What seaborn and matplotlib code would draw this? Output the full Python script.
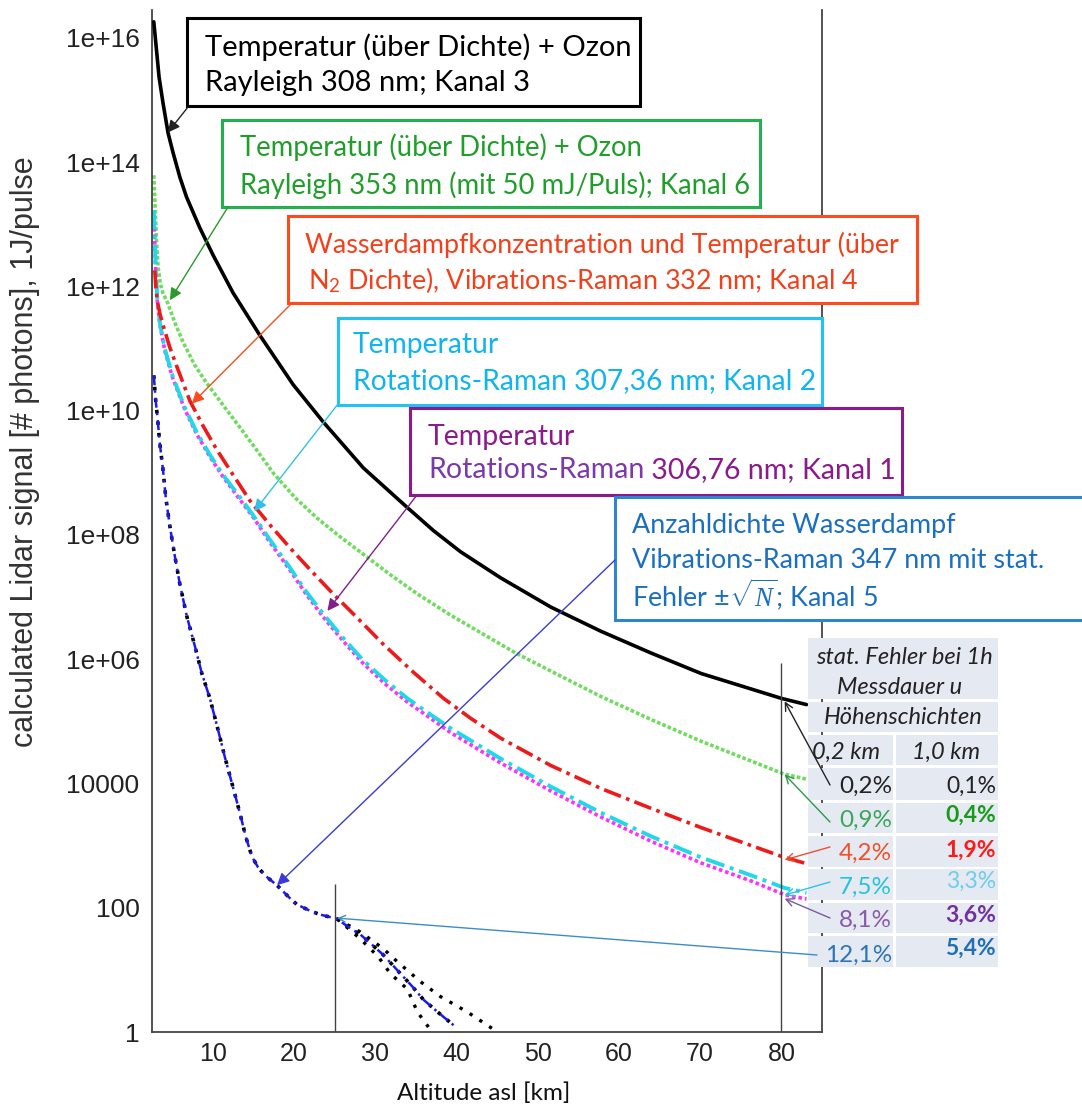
import numpy as np
import matplotlib
matplotlib.use("Agg")
import matplotlib.pyplot as plt
import seaborn as sns
from matplotlib.patches import Rectangle
from matplotlib.ticker import FixedLocator, FixedFormatter, NullLocator

# ---------------- data (altitude in km, log10 of photon counts per 1 J pulse) ----------------
k3_alt = [2.72, 3.05, 3.37, 3.86, 4.48, 5.10, 5.93, 6.75, 8.40, 10.04, 12.47, 15.80, 19.88, 23.58,
          28.52, 33.95, 37.16, 40.49, 45.43, 51.60, 57.78, 63.95, 70.12, 76.30, 80.0, 83.09]
k3_log = [16.26, 15.81, 15.37, 14.95, 14.47, 14.15, 13.76, 13.44, 12.94, 12.50, 11.90, 11.21, 10.42, 9.82,
          9.08, 8.44, 8.07, 7.73, 7.31, 6.84, 6.45, 6.10, 5.77, 5.52, 5.37, 5.27]

k6_alt = [2.72, 2.84, 2.96, 3.09, 3.27, 3.52, 3.83, 4.44, 5.31, 6.30, 7.78, 9.26, 11.48, 13.33,
          15.43, 17.41, 20.12, 22.84, 25.68, 28.52, 31.85, 35.19, 39.26, 43.33, 47.28, 51.60,
          57.78, 63.95, 70.12, 76.30, 80.37, 83.09]
k6_log = [13.79, 13.42, 13.03, 12.65, 12.29, 12.05, 11.90, 11.73, 11.42, 11.11, 10.73, 10.44, 10.05, 9.73,
          9.36, 9.00, 8.60, 8.27, 7.97, 7.69, 7.36, 7.05, 6.71, 6.40, 6.10, 5.81,
          5.40, 5.03, 4.68, 4.36, 4.15, 4.07]

k4_alt = [2.84, 2.96, 3.15, 3.46, 3.83, 4.69, 5.56, 7.16, 8.77, 10.49, 12.47, 14.57, 17.04, 19.51,
          21.98, 24.82, 27.90, 30.99, 34.69, 38.40, 41.73, 45.43, 51.60, 57.78, 63.95, 70.12,
          76.30, 80.37, 83.09]
k4_log = [12.26, 12.02, 11.77, 11.57, 11.39, 11.02, 10.71, 10.16, 9.76, 9.37, 8.97, 8.55, 8.16, 7.79,
          7.44, 7.05, 6.65, 6.24, 5.79, 5.37, 5.05, 4.73, 4.29, 3.92, 3.60, 3.29,
          3.00, 2.81, 2.71]

k2_alt = [2.72, 2.84, 2.96, 3.15, 3.46, 4.07, 5.06, 6.54, 8.02, 9.63, 11.23, 13.09, 14.94, 17.04,
          19.51, 21.36, 23.58, 26.05, 28.52, 31.23, 33.95, 36.79, 39.26, 45.43, 51.60, 57.78,
          63.95, 70.12, 76.30, 80.37, 83.09]
k2_log = [13.23, 12.74, 12.29, 11.81, 11.42, 11.00, 10.55, 10.05, 9.65, 9.29, 8.97, 8.65, 8.32, 7.92,
          7.47, 7.11, 6.73, 6.34, 5.98, 5.66, 5.37, 5.11, 4.89, 4.40, 3.95, 3.53,
          3.15, 2.81, 2.52, 2.32, 2.24]

k1_alt = k2_alt
k1_log = [13.15, 12.70, 12.25, 11.77, 11.39, 10.97, 10.52, 10.02, 9.62, 9.26, 8.94, 8.61, 8.29, 7.88,
          7.43, 7.07, 6.68, 6.29, 5.93, 5.60, 5.31, 5.05, 4.82, 4.33, 3.88, 3.46,
          3.07, 2.72, 2.43, 2.21, 2.14]

k5_alt = [2.72, 2.96, 3.21, 3.46, 3.83, 4.20, 4.69, 5.31, 5.93, 6.79, 7.78, 8.64, 9.63, 10.62,
          11.48, 12.35, 13.33, 14.07, 14.82, 15.56, 16.42, 17.90, 19.51, 20.37, 21.98, 23.21,
          25.31, 26.67, 28.15, 29.63, 30.99, 33.09, 34.57, 35.93, 37.78, 39.63]
k5_log = [10.57, 10.16, 9.84, 9.47, 9.08, 8.60, 8.15, 7.66, 7.21, 6.69, 6.21, 5.77, 5.37, 4.87,
          4.42, 4.00, 3.52, 3.13, 2.82, 2.65, 2.52, 2.36, 2.15, 2.05, 1.95, 1.89,
          1.82, 1.69, 1.57, 1.40, 1.24, 0.94, 0.73, 0.52, 0.31, 0.11]

k5_upper_alt = [25.31, 28.15, 30.99, 32.72, 35.56, 38.02, 41.36, 44.81]
k5_upper_log = [1.82, 1.61, 1.34, 1.13, 0.81, 0.57, 0.32, 0.02]
k5_lower_alt = [25.31, 28.15, 30.37, 31.85, 33.95, 35.19, 36.54]
k5_lower_log = [1.82, 1.50, 1.21, 0.94, 0.69, 0.32, 0.08]

ytick_exp = list(range(0, 17))
ytick_labels = ["1", "", "100", "", "10000", "", "1e+06", "", "1e+08", "", "1e+10", "",
                "1e+12", "", "1e+14", "", "1e+16"]
xticks = [10, 20, 30, 40, 50, 60, 70, 80]

ref_alt = [25, 80]
ref_top_log = [2.39, 5.94]

table_header = ["stat. Fehler bei 1h", "Messdauer u", "Höhenschichten"]
table_cols = ["0,2 km", "1,0 km"]
err_02km = ["0,2%", "0,9%", "4,2%", "7,5%", "8,1%", "12,1%"]
err_10km = ["0,1%", "0,4%", "1,9%", "3,3%", "3,6%", "5,4%"]

# ---------------- styling ----------------
sns.set_theme(style="white")
plt.rcParams["font.family"] = ["Liberation Sans", "DejaVu Sans"]
plt.rcParams["mathtext.fontset"] = "custom"
plt.rcParams["mathtext.rm"] = "Lato"
plt.rcParams["mathtext.it"] = "Liberation Serif:italic"

W, H = 1082, 1111
fig = plt.figure(figsize=(W / 100, H / 100), dpi=100)
fig.patch.set_facecolor("white")
ax = fig.add_axes([152 / W, 1 - 1032 / H, (822 - 152) / W, (1032 - 10) / H])
ax.set_facecolor("white")


def fx(px):
    return px / W


def fy(py):
    return 1 - py / H


def pw(v):
    return 10 ** np.asarray(v, dtype=float)


def line(xv, yv, **kw):
    sns.lineplot(x=xv, y=pw(yv), ax=ax, estimator=None, sort=False, **kw)


# channel 5 with black-dot noise band
line(k5_alt, k5_log, color="black", linestyle=(0, (1, 2.2)), lw=2.6, zorder=2)
line(k5_upper_alt, k5_upper_log, color="black", linestyle=(0, (1, 2.5)), lw=2.4, zorder=2)
line(k5_lower_alt, k5_lower_log, color="black", linestyle=(0, (1, 2.5)), lw=2.4, zorder=2)
line(k5_alt, k5_log, color="#1a1aee", linestyle=(0, (4, 2, 1, 2)), lw=1.8, zorder=3)

line(k6_alt, k6_log, color="#6fdc5e", linestyle=(0, (1, 0.6)), lw=2.6, zorder=2)
line(k1_alt, k1_log, color="#ff30ff", linestyle=(0, (1, 0.8)), lw=2.6, zorder=2)
line(k2_alt, k2_log, color="#20d8e8", linestyle=(0, (5, 1.5, 1, 1.5)), lw=2.8, zorder=2)
line(k4_alt, k4_log, color="#ee1a1a", linestyle=(0, (5, 1.5, 1, 1.5)), lw=2.6, zorder=2)
line(k3_alt, k3_log, color="black", lw=2.6, zorder=3)

for a, t in zip(ref_alt, ref_top_log):
    ax.vlines(a, 1, 10 ** t, color="#444444", lw=1.0, zorder=3)

ax.set_yscale("log")
ax.set_xlim(2.5, 85)
ax.set_ylim(1, 10 ** 16.45)
ax.yaxis.set_major_locator(FixedLocator([10.0 ** e for e in ytick_exp]))
ax.yaxis.set_major_formatter(FixedFormatter(ytick_labels))
ax.yaxis.set_minor_locator(NullLocator())
ax.set_xticks(xticks)
ax.set_xticklabels([str(v) for v in xticks])
ax.tick_params(direction="in", length=6, width=1.0, color="#333333", labelcolor="#222222")
ax.tick_params(axis="y", pad=9, labelsize=19)
ax.tick_params(axis="x", pad=7, labelsize=18)
for s in ["left", "bottom", "right"]:
    ax.spines[s].set_color("#444444")
    ax.spines[s].set_linewidth(1.3)
ax.spines["top"].set_visible(False)
ax.set_xlabel("")
ax.set_ylabel("")

LATO = ["Lato", "DejaVu Sans"]
fig.text(fx(25), fy(452), "calculated Lidar signal [# photons], 1J/pulse", rotation=90,
         ha="center", va="center", fontsize=22, color="#333333")
fig.text(fx(484), fy(1093), "Altitude asl [km]", ha="center", va="center", fontsize=17.5,
         family=LATO, color="#111111")

# ---------------- annotation boxes ----------------
boxes = [
    (187, 18, 640, 106, "black", "black", 21,
     [(205, 47, "Temperatur (über Dichte) + Ozon"), (205, 83, "Rayleigh 308 nm; Kanal 3")]),
    (222, 120, 760, 207, "#22b14c", "#1f9e2a", 19.8,
     [(240, 147, "Temperatur (über Dichte) + Ozon"), (240, 185, "Rayleigh 353 nm (mit 50 mJ/Puls); Kanal 6")]),
    (288, 216, 917, 303, "#ff4a1c", "#f4401a", 19.4,
     [(305, 245, "Wasserdampfkonzentration und Temperatur (über"),
      (308, 280, "N$_\\mathrm{2}$ Dichte), Vibrations-Raman 332 nm; Kanal 4")]),
    (338, 318, 822, 405, "#22c2f2", "#10b4ee", 20.3,
     [(353, 345, "Temperatur"), (353, 381, "Rotations-Raman 307,36 nm; Kanal 2")]),
    (410, 408, 902, 495, "#8c1a8c", "#8b1a8b", 20.5,
     [(428, 437, "Temperatur")]),
    (615, 497, 1095, 620, "#2e86d0", "#1a6fc0", 19.4,
     [(632, 525, "Anzahldichte Wasserdampf"), (632, 560, "Vibrations-Raman 347 nm mit stat."),
      (632, 594, "Fehler ±$\\sqrt{N}$; Kanal 5")]),
]
for x0, y0, x1, y1, ec, tc, fs, lines in boxes:
    ax.add_patch(Rectangle((fx(x0), fy(y1)), fx(x1) - fx(x0), fy(y0) - fy(y1),
                           transform=fig.transFigure, clip_on=False, facecolor="white",
                           edgecolor=ec, lw=2.2, zorder=5))
    for tx, ty, s in lines:
        ax.text(fx(tx), fy(ty), s, transform=fig.transFigure, ha="left", va="center",
                fontsize=fs, color=tc, family=LATO, zorder=6, clip_on=False)

# two-coloured second line of the Kanal 1 box
t_a = ax.text(fx(428), fy(470), "Rotations-Raman", transform=fig.transFigure, ha="left",
              va="center", fontsize=20.5, color="#7a3aaa", family=LATO, zorder=6)
fig.canvas.draw()
bb = t_a.get_window_extent(renderer=fig.canvas.get_renderer())
ax.text(bb.x1 / W, fy(470), " 306,76 nm; Kanal 1", transform=fig.transFigure,
        ha="left", va="center", fontsize=20.5, color="#8b1a8b", family=LATO, zorder=6)

# ---------------- table ----------------
cell_bg = "#e5e9f1"
full_rows = [(638, 699), (702, 732)]
split_rows = [(735, 765), (768, 800), (803, 833), (836, 867), (869, 900), (903, 933), (936, 967)]
for r0, r1 in full_rows:
    ax.add_patch(Rectangle((fx(808), fy(r1)), fx(998) - fx(808), fy(r0) - fy(r1),
                           transform=fig.transFigure, clip_on=False, facecolor=cell_bg,
                           edgecolor="none", zorder=5))
for r0, r1 in split_rows:
    for c0, c1 in [(808, 893), (896, 998)]:
        ax.add_patch(Rectangle((fx(c0), fy(r1)), fx(c1) - fx(c0), fy(r0) - fy(r1),
                               transform=fig.transFigure, clip_on=False, facecolor=cell_bg,
                               edgecolor="none", zorder=5))

for (ty, s), cx in zip([(657, table_header[0]), (688, table_header[1]), (718, table_header[2])],
                       [904, 900, 903]):
    ax.text(fx(cx), fy(ty), s, transform=fig.transFigure, ha="center", va="center",
            fontsize=17, style="italic", color="#222222", family=LATO, zorder=6)
ax.text(fx(812), fy(752), table_cols[0], transform=fig.transFigure, ha="left", va="center",
        fontsize=17, style="italic", color="#222222", family=LATO, zorder=6)
ax.text(fx(946), fy(752), table_cols[1], transform=fig.transFigure, ha="center", va="center",
        fontsize=17, style="italic", color="#222222", family=LATO, zorder=6)

c1_colors = ["#222222", "#3aa65a", "#f0502a", "#22c4dc", "#8a5aaa", "#2e75b6"]
c1_y = [786, 820, 853, 887, 920, 955]
c2_colors = ["#222222", "#1a9a1a", "#ff1a1a", "#6ccdf0", "#7030a0", "#1f6fb5"]
c2_weight = ["normal", "bold", "bold", "normal", "bold", "bold"]
c2_y = [786, 815, 850, 881, 915, 948]
for s, c, y in zip(err_02km, c1_colors, c1_y):
    ax.text(fx(892), fy(y), s, transform=fig.transFigure, ha="right", va="center",
            fontsize=17.5, color=c, family=LATO, zorder=6)
for s, c, w, y in zip(err_10km, c2_colors, c2_weight, c2_y):
    ax.text(fx(996), fy(y), s, transform=fig.transFigure, ha="right", va="center",
            fontsize=16.5, color=c, weight=w, family=LATO, zorder=6)

# ---------------- arrows ----------------
def arrow(x_data, y_data, px, py, color, style="-|>", ms=18, lw=1.0):
    ax.annotate("", xy=(x_data, y_data), xycoords="data", xytext=(fx(px), fy(py)),
                textcoords="figure fraction", annotation_clip=False, zorder=7,
                arrowprops=dict(arrowstyle=style, color=color, lw=lw, mutation_scale=ms,
                                shrinkA=0, shrinkB=0))

arrow(4.44, 3.0e14, 188, 107, "#222222")
arrow(4.7, 6.0e11, 228, 207, "#2a9a2a")
arrow(7.4, 1.3e10, 290, 305, "#ff4a1c")
arrow(15.1, 2.4e8, 338, 404, "#33c0e8")
arrow(24.1, 6.0e6, 417, 495, "#80208a")
arrow(17.9, 2.3e2, 615, 560, "#3a3ad8")
arrow(80.4, 2.1e5, 830, 785, "#222222", style="->", ms=14)
arrow(80.4, 1.4e4, 830, 822, "#2a9a4a", style="->", ms=14)
arrow(80.4, 5.9e2, 830, 847, "#f05030", style="->", ms=14)
arrow(80.4, 1.6e2, 830, 882, "#2ac4e4", style="->", ms=14)
arrow(80.4, 1.4e2, 830, 918, "#7a5aa0", style="->", ms=14)
arrow(25.3, 68, 817, 955, "#3a8ec8", style="->", ms=12)

fig.savefig("out.png", dpi=100, facecolor="white")
